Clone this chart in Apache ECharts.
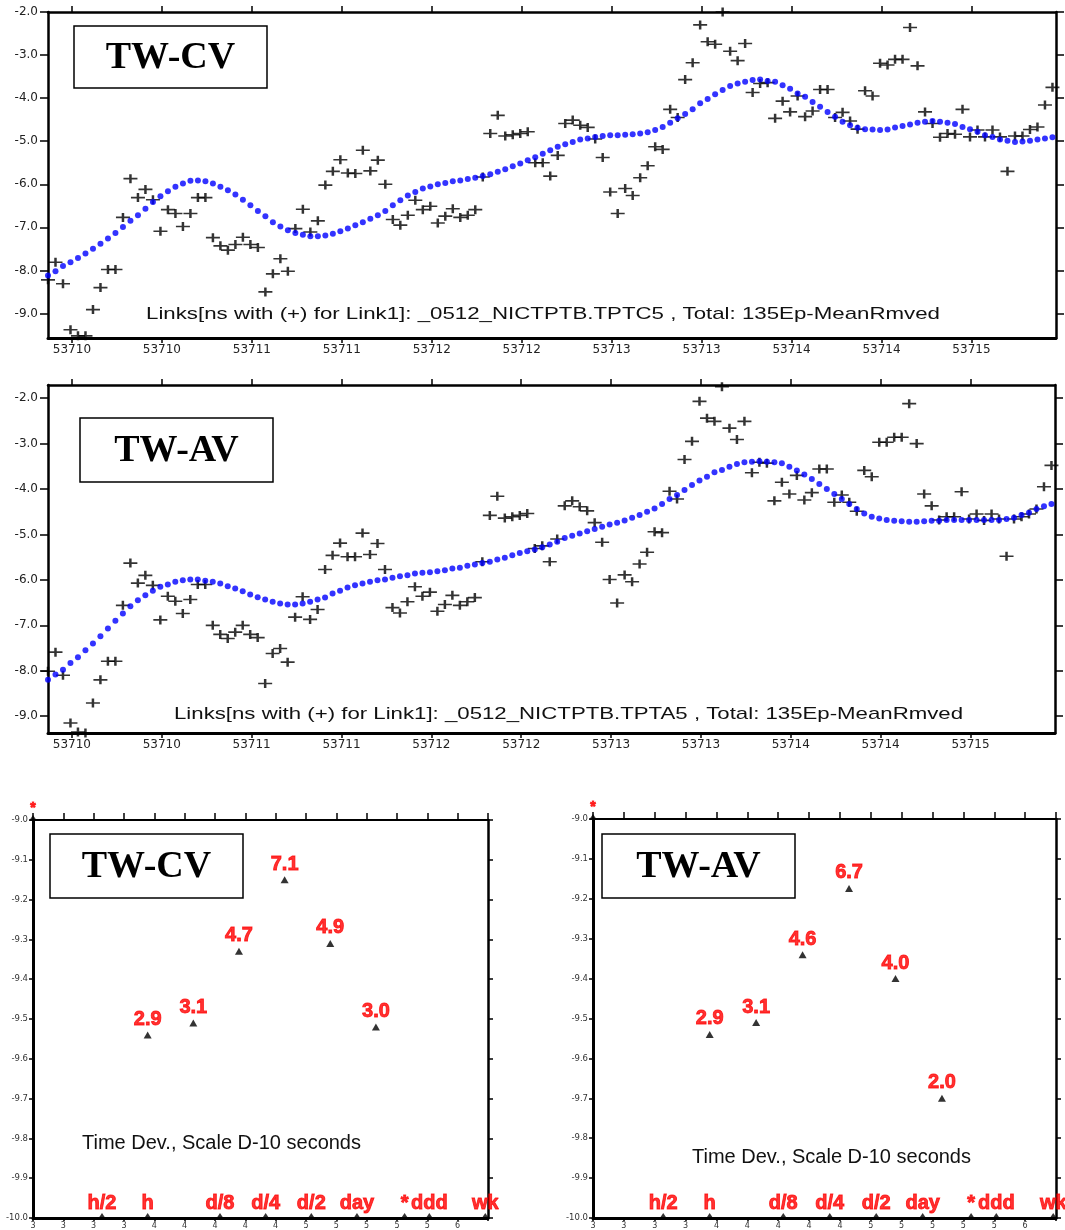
<!DOCTYPE html>
<html><head><meta charset="utf-8">
<script src="https://cdn.jsdelivr.net/npm/echarts@6/dist/echarts.min.js"></script>
<style>html,body{margin:0;padding:0;background:#fff}#c{width:1065px;height:1230px}</style>
</head><body><div id="c"></div>
<script>
// ---------- data ----------
const epochStartMJD = 53709.667;          // first epoch (MJD)
const epochStepDays = 1 / 24;             // hourly epochs
const mjdTickValues = [53709.8, 53710.3, 53710.8, 53711.3, 53711.8, 53712.3, 53712.8, 53713.3, 53713.8, 53714.3, 53714.8];
const linkValueTicks = [-9, -8, -7, -6, -5, -4, -3, -2];

const cvLinkPoints = [
 -8.22,-7.81,-8.31,-9.38,-9.52,-9.52,-8.91,-8.40,-7.98,-7.98,
 -6.77,-5.87,-6.31,-6.12,-6.36,-7.09,-6.59,-6.68,-6.98,-6.68,
 -6.31,-6.31,-7.24,-7.43,-7.53,-7.40,-7.23,-7.40,-7.47,-8.50,
 -8.08,-7.73,-8.02,-7.03,-6.58,-7.11,-6.85,-6.02,-5.70,-5.43,
 -5.74,-5.75,-5.21,-5.69,-5.44,-6.00,-6.82,-6.95,-6.72,-6.37,
 -6.59,-6.51,-6.90,-6.74,-6.57,-6.77,-6.72,-6.59,-5.83,-4.82,
 -4.40,-4.88,-4.85,-4.82,-4.78,-5.50,-5.50,-5.81,-5.33,-4.59,
 -4.51,-4.63,-4.68,-4.95,-5.38,-6.18,-6.68,-6.10,-6.26,-5.85,
 -5.57,-5.13,-5.19,-4.26,-4.45,-3.57,-3.18,-2.30,-2.69,-2.75,
 -2.00,-2.91,-3.13,-2.73,-3.87,-3.66,-3.64,-4.47,-4.07,-4.32,
 -3.95,-4.43,-4.30,-3.80,-3.80,-4.45,-4.33,-4.53,-4.72,-3.83,
 -3.95,-3.19,-3.23,-3.10,-3.10,-2.36,-3.25,-4.32,-4.59,-4.91,
 -4.82,-4.84,-4.26,-4.90,-4.74,-4.90,-4.74,-4.90,-5.70,-4.88,
 -4.88,-4.73,-4.67,-4.16,-3.75];
const cvFitCurve = [
 -8.12,-8.02,-7.90,-7.81,-7.71,-7.61,-7.50,-7.38,-7.26,-7.13,
 -6.99,-6.85,-6.72,-6.57,-6.41,-6.28,-6.16,-6.06,-5.98,-5.92,
 -5.91,-5.93,-5.98,-6.06,-6.14,-6.24,-6.36,-6.49,-6.62,-6.74,
 -6.88,-6.98,-7.07,-7.13,-7.17,-7.21,-7.21,-7.19,-7.15,-7.09,
 -7.03,-6.95,-6.88,-6.80,-6.72,-6.62,-6.49,-6.37,-6.26,-6.18,
 -6.10,-6.05,-6.00,-5.97,-5.93,-5.91,-5.88,-5.85,-5.81,-5.77,
 -5.71,-5.65,-5.58,-5.52,-5.44,-5.37,-5.29,-5.21,-5.13,-5.07,
 -5.02,-4.96,-4.94,-4.90,-4.88,-4.86,-4.86,-4.85,-4.84,-4.82,
 -4.79,-4.74,-4.67,-4.57,-4.47,-4.37,-4.26,-4.12,-4.02,-3.91,
 -3.81,-3.72,-3.66,-3.62,-3.58,-3.57,-3.60,-3.62,-3.70,-3.78,
 -3.89,-3.97,-4.09,-4.20,-4.32,-4.43,-4.55,-4.63,-4.69,-4.72,
 -4.73,-4.74,-4.73,-4.68,-4.65,-4.61,-4.57,-4.55,-4.53,-4.55,
 -4.57,-4.60,-4.67,-4.72,-4.78,-4.86,-4.90,-4.96,-4.99,-5.02,
 -5.01,-4.99,-4.96,-4.94,-4.91];
const avLinkPoints = [
 -8.01,-7.59,-8.10,-9.15,-9.35,-9.37,-8.71,-8.20,-7.79,-7.79,
 -6.56,-5.63,-6.07,-5.90,-6.12,-6.88,-6.36,-6.47,-6.74,-6.43,
 -6.10,-6.10,-7.00,-7.20,-7.29,-7.15,-7.00,-7.20,-7.27,-8.28,
 -7.62,-7.51,-7.81,-6.82,-6.37,-6.87,-6.65,-5.77,-5.46,-5.19,
 -5.49,-5.49,-4.97,-5.44,-5.20,-5.77,-6.61,-6.73,-6.48,-6.15,
 -6.36,-6.27,-6.69,-6.54,-6.34,-6.56,-6.48,-6.39,-5.60,-4.58,
 -4.16,-4.64,-4.61,-4.58,-4.54,-5.31,-5.25,-5.60,-5.10,-4.37,
 -4.26,-4.39,-4.48,-4.74,-5.17,-5.99,-6.51,-5.89,-6.04,-5.65,
 -5.39,-4.94,-4.96,-4.05,-4.22,-3.35,-2.95,-2.07,-2.44,-2.51,
 -1.75,-2.66,-2.91,-2.51,-3.64,-3.41,-3.43,-4.26,-3.85,-4.11,
 -3.70,-4.24,-4.08,-3.56,-3.56,-4.29,-4.13,-4.29,-4.49,-3.59,
 -3.73,-2.97,-2.97,-2.86,-2.86,-2.12,-3.00,-4.11,-4.37,-4.68,
 -4.61,-4.61,-4.06,-4.66,-4.55,-4.69,-4.55,-4.66,-5.48,-4.66,
 -4.61,-4.55,-4.44,-3.95,-3.48];
const avFitCurve = [
 -8.20,-8.08,-7.98,-7.83,-7.70,-7.55,-7.40,-7.24,-7.07,-6.90,
 -6.74,-6.58,-6.45,-6.34,-6.24,-6.15,-6.10,-6.04,-6.01,-5.99,
 -5.99,-6.02,-6.04,-6.08,-6.14,-6.19,-6.25,-6.32,-6.38,-6.43,
 -6.48,-6.52,-6.54,-6.54,-6.52,-6.48,-6.43,-6.39,-6.30,-6.24,
 -6.17,-6.12,-6.08,-6.04,-6.01,-5.99,-5.95,-5.92,-5.90,-5.86,
 -5.84,-5.83,-5.81,-5.79,-5.75,-5.73,-5.69,-5.66,-5.63,-5.60,
 -5.55,-5.51,-5.46,-5.41,-5.37,-5.33,-5.28,-5.22,-5.16,-5.08,
 -5.03,-4.98,-4.93,-4.88,-4.83,-4.78,-4.74,-4.69,-4.63,-4.57,
 -4.50,-4.43,-4.33,-4.22,-4.13,-4.02,-3.91,-3.81,-3.73,-3.63,
 -3.58,-3.51,-3.45,-3.41,-3.40,-3.39,-3.40,-3.41,-3.43,-3.51,
 -3.59,-3.68,-3.78,-3.89,-4.00,-4.11,-4.22,-4.33,-4.44,-4.54,
 -4.61,-4.65,-4.68,-4.70,-4.71,-4.72,-4.72,-4.71,-4.70,-4.70,
 -4.68,-4.68,-4.68,-4.68,-4.68,-4.68,-4.68,-4.68,-4.66,-4.63,
 -4.57,-4.52,-4.44,-4.38,-4.33];

// Time deviation panels (x: log10 tau [s], y: log10 TDev [s])
const tauLogSeconds = [3.556, 3.857, 4.158, 4.459, 4.760, 5.061];
const tdevCV = [-9.54, -9.51, -9.33, -9.15, -9.31, -9.52];
const tdevAV = [-9.54, -9.51, -9.34, -9.174, -9.40, -9.70];
const scaleMarkNames = ['h/2', 'h', 'd/8', 'd/4', 'd/2', 'day', '*', 'ddd', 'wk'];
const scaleMarkLog = [3.255, 3.556, 4.033, 4.334, 4.635, 4.936, 5.25, 5.413, 5.782];
const tauTickLabelValues = [2.8, 3.0, 3.2, 3.4, 3.6, 3.8, 4.0, 4.2, 4.4, 4.6, 4.8, 5.0, 5.2, 5.4, 5.6];

// ---------- chart ----------
const epochs = cvLinkPoints.map((_, i) => epochStartMJD + i * epochStepDays);
const X0 = epochStartMJD, X1 = 53715.27;
const INK = '#000';
const tickFont = 'DejaVu Sans';
const redFont = '"Liberation Sans Narrow","Arial Narrow","Liberation Sans",Arial,sans-serif';

function line(w) { return { show: true, onZero: false, lineStyle: { color: INK, width: w } }; }
function tick(len, extra) { return Object.assign({ show: true, inside: false, length: len, lineStyle: { color: INK, width: 1.5 } }, extra || {}); }

const xAxis = [], yAxis = [];
// top two panels
[0, 1].forEach(g => {
  xAxis.push({ gridIndex: g, type: 'value', position: 'bottom', min: X0, max: X1,
    axisLine: line(3), axisTick: tick(5, { customValues: mjdTickValues }),
    axisLabel: { customValues: mjdTickValues, formatter: v => String(Math.round(v)), fontFamily: tickFont, fontSize: 12, color: '#222', margin: 6 },
    splitLine: { show: false } });
  xAxis.push({ gridIndex: g, type: 'value', position: 'top', min: X0, max: X1,
    axisLine: line(2.5), axisTick: tick(6, { customValues: mjdTickValues }),
    axisLabel: { show: false }, splitLine: { show: false } });
});
const yRanges = [[-9.57, -2.0], [-9.37, -1.71]];
[0, 1].forEach(g => {
  yAxis.push({ gridIndex: g, type: 'value', position: 'left', min: yRanges[g][0], max: yRanges[g][1],
    axisLine: line(2.5), axisTick: tick(8, { customValues: linkValueTicks }),
    axisLabel: { customValues: linkValueTicks, formatter: v => v.toFixed(1), fontFamily: tickFont, fontSize: 12, color: '#222', margin: 10 },
    splitLine: { show: false } });
  yAxis.push({ gridIndex: g, type: 'value', position: 'right', min: yRanges[g][0], max: yRanges[g][1],
    axisLine: line(2.5), axisTick: tick(8, { customValues: linkValueTicks }),
    axisLabel: { show: false }, splitLine: { show: false } });
});
// lower two panels
[2, 3].forEach(g => {
  xAxis.push({ gridIndex: g, type: 'value', position: 'bottom', min: 2.8, max: 5.8, interval: 0.2,
    axisLine: line(3), axisTick: tick(3),
    axisLabel: { customValues: tauTickLabelValues, formatter: v => String(Math.round(v)), fontFamily: tickFont, fontSize: 8, color: '#333', margin: 4 },
    splitLine: { show: false } });
  xAxis.push({ gridIndex: g, type: 'value', position: 'top', min: 2.8, max: 5.8, interval: 0.2,
    axisLine: line(2), axisTick: tick(7), axisLabel: { show: false }, splitLine: { show: false } });
  yAxis.push({ gridIndex: g, type: 'value', position: 'left', min: -10, max: -9, interval: 0.1,
    axisLine: line(3), axisTick: tick(4),
    axisLabel: { formatter: v => v.toFixed(1), fontFamily: tickFont, fontSize: 8.5, color: '#333', margin: 5 },
    splitLine: { show: false } });
  yAxis.push({ gridIndex: g, type: 'value', position: 'right', min: -10, max: -9, interval: 0.1,
    axisLine: line(2.5), axisTick: tick(5), axisLabel: { show: false }, splitLine: { show: false } });
});

const crossPath = 'path://M0,4.5L14,4.5M7,0L7,9';
function linkSeries(g, pts, fit) {
  return [
    { type: 'scatter', xAxisIndex: 2 * g, yAxisIndex: 2 * g, clip: false, silent: true,
      data: epochs.map((t, i) => [t, pts[i]]), symbol: crossPath, symbolSize: [14, 9],
      itemStyle: { color: 'rgba(0,0,0,0)', borderColor: INK, borderWidth: 2 }, z: 2 },
    { type: 'scatter', xAxisIndex: 2 * g, yAxisIndex: 2 * g, clip: false, silent: true,
      data: epochs.map((t, i) => [t, fit[i]]), symbol: 'circle', symbolSize: 6,
      itemStyle: { color: '#0000ff' }, z: 3 }
  ];
}
const redLabel = { show: true, position: 'top', color: '#ff0000', fontWeight: 'bold', fontSize: 20, fontFamily: redFont,
  textBorderColor: '#ff0000', textBorderWidth: 0.9 };
function tdevSeries(g, vals) {
  const marks = scaleMarkLog.map((x, i) => ({ value: [x, -10], name: scaleMarkNames[i] }));
  marks.push({ value: [2.8, -9.0], name: '*', label: { fontSize: 14 } });
  return [
    { type: 'scatter', xAxisIndex: 2 * g, yAxisIndex: 2 * g, clip: false, silent: true,
      data: tauLogSeconds.map((x, i) => [x, vals[i]]), symbol: 'triangle', symbolSize: [8, 7],
      itemStyle: { color: INK },
      label: Object.assign({}, redLabel, { distance: 2, formatter: p => Math.pow(10, p.value[1] + 10).toFixed(1) }), z: 4 },
    { type: 'scatter', xAxisIndex: 2 * g, yAxisIndex: 2 * g, clip: false, silent: true,
      data: marks, symbol: 'triangle', symbolSize: [8, 6], symbolOffset: [0, -2],
      itemStyle: { color: INK },
      label: Object.assign({}, redLabel, { distance: 0, formatter: '{b}' }), z: 4 }
  ];
}

function stretch(text, font, width) {
  const ctx = document.createElement('canvas').getContext('2d');
  ctx.font = font;
  return width / ctx.measureText(text).width;
}
const linkFont = '17px "Liberation Sans"';
const cvCaption = 'Links[ns with (+) for Link1]: _0512_NICTPTB.TPTC5 , Total: 135Ep-MeanRmved';
const avCaption = 'Links[ns with (+) for Link1]: _0512_NICTPTB.TPTA5 , Total: 135Ep-MeanRmved';

function titleBox(x, y, w, h, label) {
  return [
    { type: 'rect', shape: { x: x, y: y, width: w, height: h }, style: { fill: '#fff', stroke: INK, lineWidth: 1.5 }, z: 20 },
    { type: 'text', x: x + w / 2, y: y + h / 2 + 1, z: 21,
      style: { text: label, font: 'bold 38px "Liberation Serif","Times New Roman",serif', fill: INK, align: 'center', verticalAlign: 'middle' } }
  ];
}
function caption(x, y, text, width) {
  return { type: 'text', x: x, y: y, scaleX: stretch(text, linkFont, width), z: 21,
    style: { text: text, font: linkFont, fill: '#111', align: 'left', verticalAlign: 'middle' } };
}
function plainText(x, y, text) {
  return { type: 'text', x: x, y: y, z: 21,
    style: { text: text, font: '20px "Liberation Sans",Arial,sans-serif', fill: '#111', align: 'left', verticalAlign: 'middle' } };
}

const option = {
  animation: false,
  backgroundColor: '#fff',
  grid: [
    { left: 48, top: 12, width: 1008, height: 326 },
    { left: 48, top: 385, width: 1007, height: 348 },
    { left: 33, top: 820, width: 455, height: 402 },
    { left: 593, top: 819, width: 463, height: 399 }
  ],
  xAxis: xAxis,
  yAxis: yAxis,
  series: [].concat(linkSeries(0, cvLinkPoints, cvFitCurve), linkSeries(1, avLinkPoints, avFitCurve),
                    tdevSeries(2, tdevCV), tdevSeries(3, tdevAV)),
  graphic: [].concat(
    titleBox(74, 26, 193, 62, 'TW-CV'),
    titleBox(80, 418, 193, 64, 'TW-AV'),
    titleBox(50, 834, 193, 64, 'TW-CV'),
    titleBox(602, 834, 193, 64, 'TW-AV'),
    [caption(146, 314, cvCaption, 794), caption(174, 714, avCaption, 789),
     plainText(82, 1143, 'Time Dev., Scale D-10 seconds'), plainText(692, 1157, 'Time Dev., Scale D-10 seconds')]
  )
};
const chart = echarts.init(document.getElementById('c'), null, { renderer: 'canvas', width: 1065, height: 1230 });
chart.setOption(option);
</script>
</body></html>
